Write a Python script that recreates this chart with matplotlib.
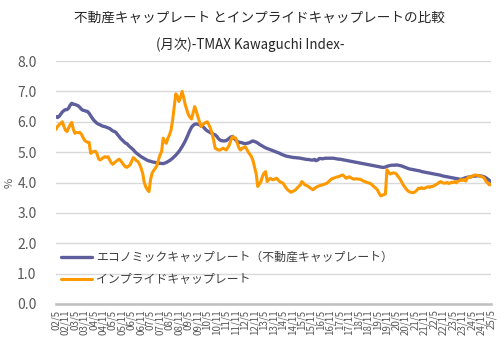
import matplotlib
matplotlib.use("Agg")
import matplotlib.pyplot as plt

plt.rcParams['font.family'] = ['Noto Sans CJK JP', 'DejaVu Sans']

title_line1 = "不動産キャップレート とインプライドキャップレートの比較"
title_line2 = "(月次)-TMAX Kawaguchi Index-"
series_names = ["エコノミックキャップレート（不動産キャップレート）", "インプライドキャップレート"]
y_label = "%"

# monthly data 2002/5 .. 2025/5
economic_cap = [
    6.17, 6.14, 6.18, 6.25, 6.32, 6.37, 6.40, 6.40, 6.45, 6.55, 6.61, 6.58,
    6.57, 6.55, 6.53, 6.48, 6.42, 6.38, 6.37, 6.35, 6.34, 6.28, 6.20, 6.12,
    6.05, 6.00, 5.95, 5.92, 5.90, 5.87, 5.85, 5.84, 5.82, 5.80, 5.78, 5.74,
    5.70, 5.68, 5.65, 5.58, 5.52, 5.45, 5.40, 5.35, 5.30, 5.28, 5.22, 5.17,
    5.13, 5.08, 5.02, 4.97, 4.93, 4.89, 4.85, 4.82, 4.79, 4.76, 4.73, 4.71,
    4.70, 4.68, 4.67, 4.66, 4.65, 4.64, 4.63, 4.63, 4.62, 4.64, 4.66, 4.69,
    4.72, 4.76, 4.80, 4.85, 4.90, 4.96, 5.02, 5.10, 5.18, 5.27, 5.37, 5.48,
    5.60, 5.72, 5.82, 5.88, 5.92, 5.93, 5.92, 5.90, 5.87, 5.85, 5.80, 5.74,
    5.70, 5.67, 5.64, 5.61, 5.59, 5.57, 5.52, 5.45, 5.40, 5.38, 5.37, 5.37,
    5.38, 5.42, 5.46, 5.50, 5.52, 5.46, 5.40, 5.35, 5.33, 5.32, 5.31, 5.29,
    5.28, 5.29, 5.30, 5.32, 5.35, 5.37, 5.35, 5.33, 5.30, 5.26, 5.23, 5.20,
    5.17, 5.14, 5.12, 5.10, 5.08, 5.06, 5.04, 5.02, 5.00, 4.98, 4.96, 4.93,
    4.91, 4.89, 4.87, 4.86, 4.85, 4.84, 4.83, 4.82, 4.82, 4.81, 4.81, 4.80,
    4.79, 4.78, 4.77, 4.76, 4.76, 4.75, 4.74, 4.74, 4.76, 4.72, 4.74, 4.79,
    4.79, 4.78, 4.79, 4.80, 4.80, 4.80, 4.80, 4.80, 4.80, 4.79, 4.78, 4.77,
    4.77, 4.76, 4.75, 4.74, 4.73, 4.72, 4.71, 4.70, 4.69, 4.68, 4.67, 4.66,
    4.65, 4.64, 4.63, 4.62, 4.61, 4.60, 4.59, 4.58, 4.57, 4.56, 4.55, 4.54,
    4.53, 4.52, 4.51, 4.50, 4.50, 4.51, 4.53, 4.55, 4.56, 4.57, 4.57, 4.57,
    4.58, 4.57, 4.56, 4.55, 4.53, 4.51, 4.49, 4.47, 4.45, 4.44, 4.43, 4.42,
    4.41, 4.40, 4.39, 4.38, 4.36, 4.35, 4.34, 4.33, 4.32, 4.31, 4.30, 4.29,
    4.28, 4.27, 4.26, 4.25, 4.24, 4.22, 4.21, 4.20, 4.19, 4.18, 4.17, 4.16,
    4.15, 4.14, 4.13, 4.12, 4.11, 4.10, 4.12, 4.14, 4.16, 4.17, 4.18, 4.19,
    4.20, 4.21, 4.21, 4.22, 4.22, 4.22, 4.21, 4.20, 4.18, 4.15, 4.11, 4.07,
    4.03,
]

implied_cap = [
    5.75, 5.85, 5.90, 5.95, 6.00, 5.85, 5.72, 5.68, 5.80, 5.90, 5.98, 5.75,
    5.62, 5.65, 5.64, 5.65, 5.60, 5.50, 5.40, 5.35, 5.33, 5.32, 4.96, 5.00,
    5.02, 5.03, 4.95, 4.78, 4.74, 4.78, 4.82, 4.85, 4.83, 4.85, 4.75, 4.65,
    4.60, 4.65, 4.69, 4.73, 4.77, 4.72, 4.65, 4.58, 4.52, 4.50, 4.54, 4.58,
    4.70, 4.82, 4.78, 4.72, 4.69, 4.60, 4.47, 4.30, 4.00, 3.85, 3.76, 3.70,
    4.10, 4.31, 4.40, 4.47, 4.55, 4.74, 4.91, 5.02, 5.46, 5.35, 5.29, 5.46,
    5.57, 5.73, 6.06, 6.50, 6.92, 6.85, 6.67, 6.80, 7.00, 6.80, 6.56, 6.40,
    6.23, 6.15, 6.09, 6.30, 6.50, 6.35, 6.17, 6.00, 5.84, 5.90, 5.95, 5.98,
    6.00, 5.90, 5.79, 5.62, 5.40, 5.13, 5.10, 5.07, 5.07, 5.10, 5.13, 5.10,
    5.07, 5.15, 5.24, 5.40, 5.51, 5.48, 5.46, 5.30, 5.15, 5.07, 5.12, 5.15,
    5.18, 5.10, 5.00, 4.93, 4.85, 4.72, 4.50, 4.30, 3.87, 3.95, 4.03, 4.20,
    4.31, 4.36, 4.03, 4.10, 4.14, 4.10, 4.09, 4.12, 4.14, 4.08, 4.03, 4.00,
    3.98, 3.90, 3.82, 3.76, 3.72, 3.68, 3.70, 3.73, 3.76, 3.82, 3.87, 3.92,
    4.03, 3.98, 3.92, 3.90, 3.87, 3.83, 3.80, 3.76, 3.80, 3.84, 3.87, 3.89,
    3.91, 3.92, 3.94, 3.96, 3.98, 4.03, 4.08, 4.12, 4.14, 4.16, 4.18, 4.19,
    4.21, 4.23, 4.25, 4.20, 4.14, 4.16, 4.19, 4.16, 4.13, 4.11, 4.12, 4.12,
    4.11, 4.11, 4.08, 4.05, 4.03, 4.01, 3.99, 3.98, 3.95, 3.90, 3.85, 3.81,
    3.75, 3.65, 3.56, 3.58, 3.60, 3.62, 4.42, 4.35, 4.28, 4.30, 4.32, 4.31,
    4.28, 4.20, 4.14, 4.05, 3.95, 3.87, 3.80, 3.74, 3.70, 3.68, 3.67, 3.67,
    3.70, 3.75, 3.81, 3.80, 3.83, 3.80, 3.81, 3.84, 3.86, 3.84, 3.87, 3.87,
    3.90, 3.93, 3.96, 4.00, 4.03, 4.00, 3.98, 3.98, 4.00, 3.97, 3.98, 4.01,
    4.00, 4.03, 3.99, 4.04, 4.06, 4.09, 4.07, 4.10, 4.05, 4.14, 4.19, 4.17,
    4.20, 4.23, 4.25, 4.24, 4.23, 4.21, 4.19, 4.18, 4.12, 4.03, 3.98, 3.92,
    3.95,
]

tick_labels = [f"{y:02d}/{m}" for y in range(2, 26) for m in (5, 11)][:-1]
y_ticks = [0.0, 1.0, 2.0, 3.0, 4.0, 5.0, 6.0, 7.0, 8.0]

fig = plt.figure(figsize=(5.01, 3.57), dpi=100)
ax = fig.add_axes([0.1118, 0.1485, 0.8682, 0.6805])

months = list(range(len(economic_cap)))
ax.plot(months, economic_cap, color="#5E5E9C", lw=2.4, label=series_names[0], solid_capstyle="round")
ax.plot(months, implied_cap, color="#FF9900", lw=2.2, label=series_names[1], solid_capstyle="round")

ax.set_xlim(0, len(economic_cap) - 1)
ax.set_ylim(0, 8)
ax.set_yticks(y_ticks)
ax.set_yticklabels([f"{v:.1f}" for v in y_ticks], fontsize=10, color="#595959")
ax.set_xticks(list(range(0, len(economic_cap), 6)))
ax.set_xticklabels(tick_labels, rotation=90, fontsize=7, color="#595959")
ax.tick_params(axis="both", length=0)
ax.tick_params(axis="y", pad=14)
ax.tick_params(axis="x", pad=4)
ax.grid(axis="y", color="#D9D9D9", lw=1)
ax.set_axisbelow(True)
for s in ["top", "right", "left"]:
    ax.spines[s].set_visible(False)
ax.spines["bottom"].set_color("#BFBFBF")
ax.spines["bottom"].set_linewidth(1.8)

ax.set_ylabel(y_label, fontsize=8, color="#595959", labelpad=2)
ax.yaxis.set_label_coords(-0.095, 0.5)

leg = ax.legend(loc="lower left", bbox_to_anchor=(-0.005, 0.045), frameon=False,
                fontsize=8.6, handlelength=2.6, handletextpad=0.3, labelspacing=0.75,
                borderaxespad=0.2)
for t in leg.get_texts():
    t.set_color("#404040")

fig.text(0.517, 0.949, title_line1, ha="center", va="center", fontsize=9.8, color="#262626")
fig.text(0.5, 0.876, title_line2, ha="center", va="center", fontsize=9.6, color="#262626")

fig.savefig("out.png", dpi=100)
